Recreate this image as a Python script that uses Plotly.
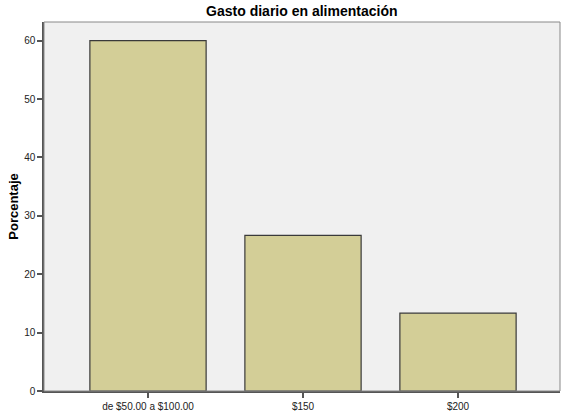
import plotly.graph_objects as go

categories = ["de $50.00 a $100.00", "$150", "$200"]
percentages = [60.0, 26.67, 13.33]
y_ticks = [0, 10, 20, 30, 40, 50, 60]

fig = go.Figure()
fig.add_trace(go.Bar(
    x=categories, y=percentages,
    width=0.75,
    marker=dict(color="#D3CE97", line=dict(color="#3a3a3a", width=1.2)),
    hoverinfo="skip",
))

fig.update_layout(
    width=561, height=415,
    margin=dict(l=44, r=1, t=22, b=24),
    paper_bgcolor="white",
    plot_bgcolor="#F0F0F0",
    showlegend=False,
    title=dict(text="<b>Gasto diario en alimentación</b>", x=0.538, xanchor="center",
               y=0.973, yanchor="middle",
               font=dict(family="Liberation Sans, Arial", size=14, color="black")),
    font=dict(family="Liberation Sans, Arial", size=10, color="#222"),
    shapes=[dict(type="rect", xref="paper", yref="paper", x0=0, y0=0, x1=1, y1=1,
                 line=dict(color="#888888", width=1), fillcolor="rgba(0,0,0,0)", layer="above")],
)
fig.update_xaxes(
    range=[-0.671, 2.658], showgrid=False, zeroline=False,
    showline=True, linecolor="#555555", linewidth=1.5,
    ticks="outside", ticklen=5, tickcolor="#555555", tickwidth=1.5,
    tickfont=dict(size=10, color="#222"),
)
fig.update_yaxes(
    range=[0, 63.2], showgrid=False, zeroline=False,
    showline=True, linecolor="#555555", linewidth=1.5,
    ticks="outside", ticklen=5, tickcolor="#555555", tickwidth=1.5,
    tickvals=y_ticks, tickfont=dict(size=10, color="#222"),
    title=dict(text="<b>Porcentaje</b>", font=dict(size=13, color="black"), standoff=3),
)

fig.write_html("out.html", config={"displayModeBar": False},
               post_script="document.body.style.margin='0';document.body.style.overflow='hidden';")
